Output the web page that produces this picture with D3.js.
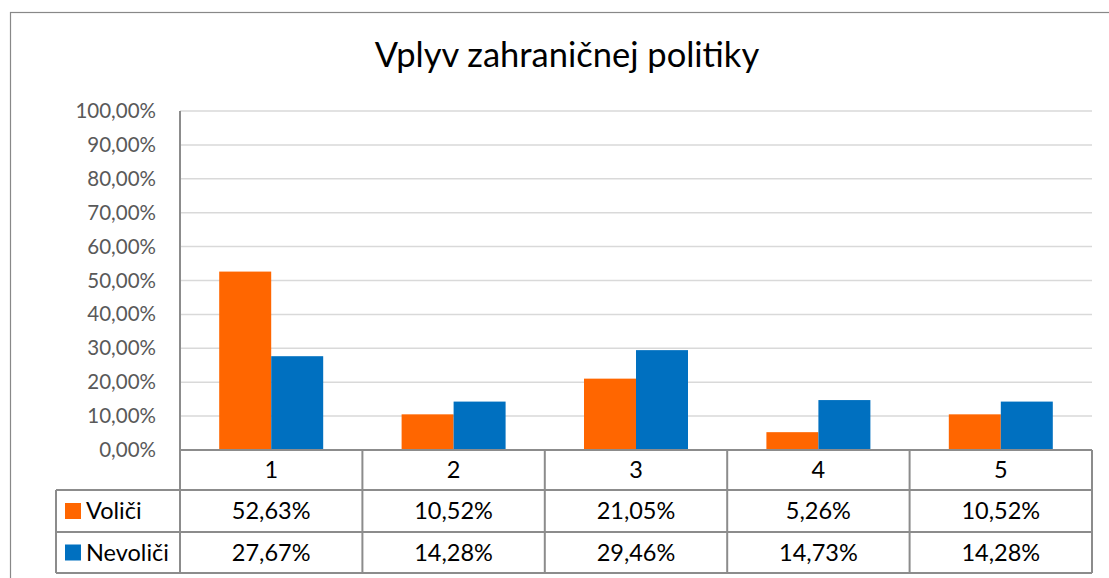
<!DOCTYPE html>
<html lang="sk">
<head>
  <meta charset="UTF-8">
  <title>Vplyv zahraničnej politiky</title>
  <style>
    body { margin: 0; background: #fff; font-family: Lato, "Open Sans", sans-serif; }
    .grid line { stroke: #d9d9d9; stroke-width: 1.5px; }
    .y-axis text { fill: #595959; font-size: 20.5px; }
    .tbl line { stroke: #8c8c8c; stroke-width: 2px; }
    .tbl text { fill: #000; font-size: 23.5px; }
  </style>
</head>
<body>
  <div id="chart"></div>
  <script src="https://d3js.org/d3.v7.min.js"></script>
  <script>
    // data
    const categories = ["1", "2", "3", "4", "5"];
    const seriesNames = ["Voliči", "Nevoliči"];
    const colors = ["#ff6600", "#0070c0"];
    const volici = [0.5263, 0.1052, 0.2105, 0.0526, 0.1052];
    const nevolici = [0.2767, 0.1428, 0.2946, 0.1473, 0.1428];
    const yTicks = [0, 0.1, 0.2, 0.3, 0.4, 0.5, 0.6, 0.7, 0.8, 0.9, 1.0];

    const width = 1109, height = 578;
    const plot = { left: 180, right: 1092, top: 111, bottom: 450 };
    const rowH = [40, 42, 41];   // header row, Voliči, Nevoliči
    const legendLeft = 56;

    const svg = d3.select("#chart").append("svg")
      .attr("width", width)
      .attr("height", height);

    // chart frame (runs off the right and bottom of the window)
    svg.append("rect")
      .attr("x", 10.5).attr("y", 12.5)
      .attr("width", width + 20).attr("height", height + 20)
      .attr("fill", "none")
      .attr("stroke", "#888")
      .attr("stroke-width", 1.2);

    // title
    svg.append("text")
      .attr("x", 567).attr("y", 67)
      .attr("text-anchor", "middle")
      .attr("font-size", 34.5)
      .attr("fill", "#000")
      .text("Vplyv zahraničnej politiky");

    const x = d3.scaleBand()
      .domain(categories)
      .range([plot.left, plot.right])
      .paddingInner(0)
      .paddingOuter(0);

    const xInner = d3.scaleBand()
      .domain(seriesNames)
      .range([0, x.bandwidth()])
      .paddingOuter(0.754)
      .paddingInner(0);

    const y = d3.scaleLinear()
      .domain([0, 1])
      .range([plot.bottom, plot.top]);

    const fmtPct = v => d3.format(".2f")(v * 100).replace(".", ",") + "%";

    // gridlines
    svg.append("g").attr("class", "grid")
      .selectAll("line")
      .data(yTicks.filter(d => d > 0))
      .join("line")
      .attr("x1", plot.left).attr("x2", plot.right)
      .attr("y1", d => y(d)).attr("y2", d => y(d));

    // y axis labels
    const yAxis = svg.append("g")
      .attr("class", "y-axis")
      .attr("transform", `translate(${plot.left},0)`)
      .call(d3.axisLeft(y).tickValues(yTicks).tickFormat(fmtPct).tickSize(0).tickPadding(24));
    yAxis.select(".domain").remove();
    yAxis.selectAll("text").style("font-family", "Lato, sans-serif");

    // bars
    const seriesData = [volici, nevolici];
    seriesNames.forEach((s, si) => {
      svg.append("g")
        .selectAll("rect")
        .data(categories)
        .join("rect")
        .attr("x", c => x(c) + xInner(s))
        .attr("width", xInner.bandwidth())
        .attr("y", (c, i) => y(seriesData[si][i]))
        .attr("height", (c, i) => y(0) - y(seriesData[si][i]))
        .attr("fill", colors[si]);
    });

    // data table below the plot
    const tbl = svg.append("g").attr("class", "tbl");
    const rowY = [plot.bottom];
    rowH.forEach(h => rowY.push(rowY[rowY.length - 1] + h));

    // y axis line
    tbl.append("line")
      .attr("x1", plot.left).attr("x2", plot.left)
      .attr("y1", plot.top).attr("y2", rowY[3]);

    // horizontal rules
    tbl.append("line")
      .attr("x1", plot.left).attr("x2", plot.right)
      .attr("y1", rowY[0]).attr("y2", rowY[0]);
    [1, 2, 3].forEach(r => {
      tbl.append("line")
        .attr("x1", legendLeft).attr("x2", plot.right)
        .attr("y1", rowY[r]).attr("y2", rowY[r]);
    });
    // legend column left edge
    tbl.append("line")
      .attr("x1", legendLeft).attr("x2", legendLeft)
      .attr("y1", rowY[1]).attr("y2", rowY[3]);

    // column separators
    tbl.selectAll("line.col")
      .data(categories)
      .join("line")
      .attr("class", "col")
      .attr("x1", c => x(c) + x.bandwidth()).attr("x2", c => x(c) + x.bandwidth())
      .attr("y1", rowY[0]).attr("y2", rowY[3]);

    // category labels
    tbl.selectAll("text.cat")
      .data(categories)
      .join("text")
      .attr("class", "cat")
      .attr("x", c => x(c) + x.bandwidth() / 2)
      .attr("y", (rowY[0] + rowY[1]) / 2)
      .attr("dy", "0.36em")
      .attr("text-anchor", "middle")
      .text(c => c);

    // series rows
    seriesNames.forEach((s, si) => {
      const cy = (rowY[si + 1] + rowY[si + 2]) / 2;
      tbl.append("rect")
        .attr("x", 65).attr("y", cy - 8)
        .attr("width", 16).attr("height", 16)
        .attr("fill", colors[si]);
      tbl.append("text")
        .attr("x", 86).attr("y", cy)
        .attr("dy", "0.36em")
        .text(s);
      tbl.selectAll(null)
        .data(categories)
        .join("text")
        .attr("x", c => x(c) + x.bandwidth() / 2)
        .attr("y", cy)
        .attr("dy", "0.36em")
        .attr("text-anchor", "middle")
        .text((c, i) => fmtPct(seriesData[si][i]));
    });
  </script>
</body>
</html>
